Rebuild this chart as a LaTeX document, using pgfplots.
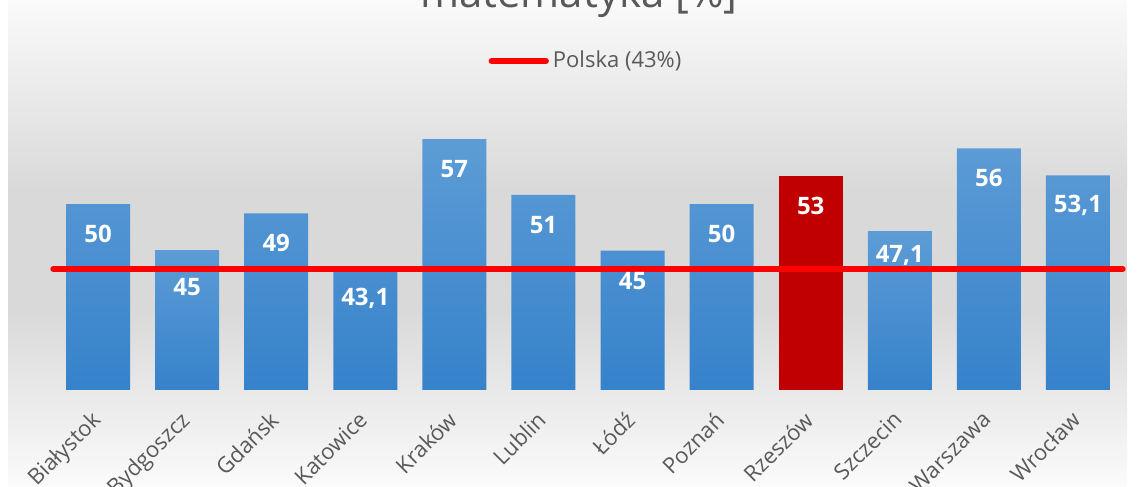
\documentclass[border=0pt]{standalone}
\usepackage{fontspec}
\setmainfont{Open Sans}
\usepackage{pgfplots}
\usepackage{pgfplotstable}
\pgfplotsset{compat=1.18}
\definecolor{txtgray}{HTML}{595959}
\definecolor{bartop}{HTML}{5D9CD6}
\definecolor{barbot}{HTML}{3682CB}
\definecolor{barred}{HTML}{C00000}
\definecolor{bgtop}{HTML}{FAFAFA}
\definecolor{bgmid}{HTML}{D9D9D9}
\definecolor{bgbot}{HTML}{FBFBFB}

% x = category index
\pgfplotstableread{
x y label
0 50 50
2 49 49
3 43.1 43,1
4 57 57
5 51 51
6 45 45
7 50 50
10 56 56
11 53.1 53,1
}\blue
% labels that sit a little lower / higher in the reference
\pgfplotstableread{
x y label
1 45 45
}\bluelow
\pgfplotstableread{
x y label
9 47.1 47,1
}\bluehigh
\pgfplotstableread{
x y label
8 53 53
}\red

\pgfplotsset{
  valbar/.style={ybar, bar width=32pt, bar shift=0pt, draw=none, forget plot,
    nodes near coords, point meta=explicit symbolic,
    every node near coord/.append style={anchor=center, yshift=-15pt,
      text=white, font=\bfseries\fontsize{12}{14}\selectfont}},
  bluebar/.style={valbar, top color=bartop, bottom color=barbot},
}

\begin{document}
\begin{tikzpicture}
\clip (0,0) rectangle (568.5pt,243.5pt);
\fill[white] (0,0) rectangle (568.5pt,243.5pt);
\shade[top color=bgtop, bottom color=bgmid] (4pt,148.5pt) rectangle (563.5pt,243.5pt);
\fill[bgmid] (4pt,88.5pt) rectangle (563.5pt,148.6pt);
\shade[top color=bgmid, bottom color=bgbot] (4pt,0pt) rectangle (563.5pt,88.6pt);
\node[anchor=base, font=\fontsize{21}{25}\selectfont, text=txtgray] at (289.5pt,239.75pt) {matematyka [\%]};
\begin{axis}[
  at={(26.75pt,48.5pt)}, anchor=south west,
  scale only axis, width=534.5pt, height=145pt,
  xmin=-0.5, xmax=11.5, ymin=30, ymax=61.2,
  axis line style={draw=none}, clip=false,
  ytick=\empty, xtick={0,...,11}, major tick length=0pt,
  xticklabel style={yshift=-5pt, xshift=-4pt, rotate=45, anchor=north east, font=\fontsize{11}{13}\selectfont, text=txtgray},
  xticklabels={Białystok,Bydgoszcz,Gdańsk,Katowice,Kraków,Lublin,Łódź,Poznań,Rzeszów,Szczecin,Warszawa,Wrocław},
  legend style={at={(0.499,1.134)}, anchor=center, draw=none, fill=none,
    font=\fontsize{11}{13}\selectfont, text=txtgray, inner sep=0pt},
  legend image code/.code={\draw[red, line width=3.2pt, line cap=round] (0pt,0pt) -- (27pt,0pt);},
]
\addplot[bluebar] table[x=x, y=y, meta=label] {\blue};
\addplot[bluebar, every node near coord/.append style={yshift=-3pt}] table[x=x, y=y, meta=label] {\bluelow};
\addplot[bluebar, every node near coord/.append style={yshift=3pt}] table[x=x, y=y, meta=label] {\bluehigh};
\addplot[valbar, fill=barred] table[x=x, y=y, meta=label] {\red};
\addplot[red, line width=3.2pt, line cap=round] coordinates {(-0.5,43) (11.5,43)};
\legend{Polska (43\%)}
\end{axis}
\end{tikzpicture}
\end{document}
